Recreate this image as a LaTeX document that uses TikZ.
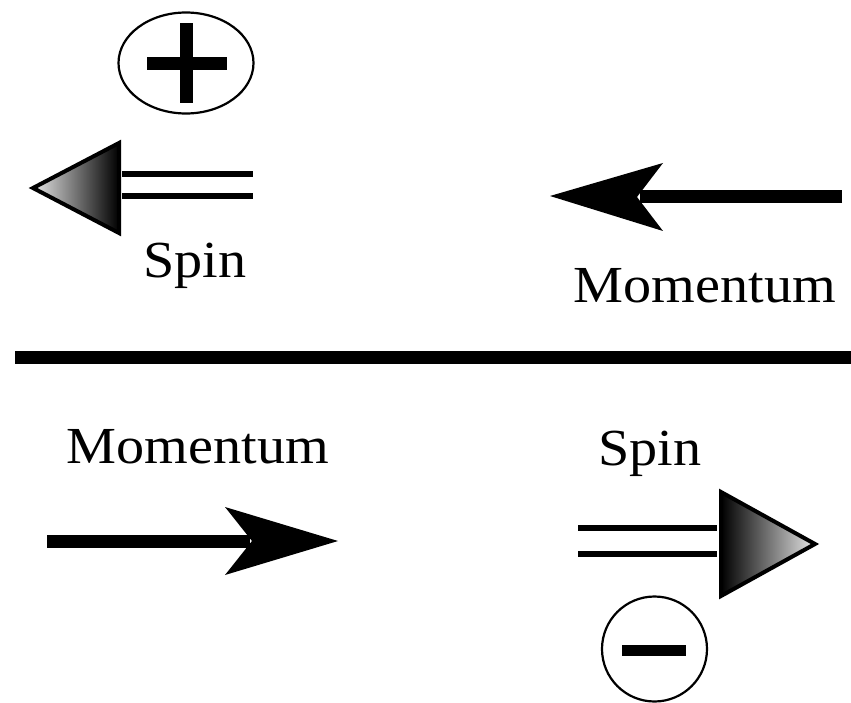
\documentclass[tikz,border=0pt]{standalone}
\usepackage{fontspec}
\setmainfont{Liberation Serif}[FakeStretch=1.08]
\usetikzlibrary{shapes.geometric}
\tikzset{
  lbl/.style={anchor=base, inner sep=0pt, font=\fontsize{52}{60}\selectfont},
  shaft/.style={line width=13pt},
  head/.style={fill=black, draw=none},
  rail/.style={line width=5.5pt},
  tri/.style={draw=black, line width=4pt, line join=miter},
  sign/.style={draw=black, line width=2.2pt},
  bar/.style={fill=black}
}
\begin{document}
\begin{tikzpicture}[x=1pt,y=-1pt]
\useasboundingbox (0,0) rectangle (851,703);
\fill[white] (0,0) rectangle (851,703);

% ---------- top half ----------
% plus sign
\node[sign, ellipse, minimum width=135pt, minimum height=101pt, inner sep=0pt] (plus) at (186,63) {};
\fill[bar] (147,57) rectangle (227,70);
\fill[bar] (180,23) rectangle (193,103);

% spin arrow (left)
\coordinate (sl1) at (122,174);
\coordinate (sr1) at (253,174);
\coordinate (sl2) at (122,196);
\coordinate (sr2) at (253,196);
\draw[rail] (sl1) -- (sr1);
\draw[rail] (sl2) -- (sr2);
\coordinate (tipA) at (33,188);
\coordinate (tA1) at (119,143);
\coordinate (tA2) at (119,233);
\shade[left color=gray!20, right color=black] (tipA) -- (tA1) -- (tA2) -- cycle;
\draw[tri] (tipA) -- (tA1) -- (tA2) -- cycle;
\node[lbl] (spinA) at (195,277) {Spin};

% momentum arrow (left-pointing)
\coordinate (mA0) at (842,197);
\coordinate (mAn) at (640,197);
\draw[shaft] (mA0) -- (mAn);
\fill[head] (550,196) -- (663,163) -- (637,197) -- (663,231) -- cycle;
\node[lbl] (momA) at (705,302) {Momentum};

% ---------- divider ----------
\coordinate (d0) at (15,357.5);
\coordinate (d1) at (851,357.5);
\draw[line width=13pt] (d0) -- (d1);

% ---------- bottom half ----------
\node[lbl] (momB) at (198,463) {Momentum};
\coordinate (mB0) at (47,541);
\coordinate (mBn) at (250,541);
\draw[shaft] (mB0) -- (mBn);
\fill[head] (338,541) -- (225,507) -- (252,541) -- (225,575) -- cycle;

\node[lbl] (spinB) at (650,465) {Spin};
\coordinate (sb1) at (578,528);
\coordinate (se1) at (717,528);
\coordinate (sb2) at (578,554);
\coordinate (se2) at (717,554);
\draw[rail] (sb1) -- (se1);
\draw[rail] (sb2) -- (se2);
\coordinate (tipB) at (815,544);
\coordinate (tB1) at (721,492);
\coordinate (tB2) at (721,596);
\shade[left color=black, right color=gray!20] (tipB) -- (tB1) -- (tB2) -- cycle;
\draw[tri] (tipB) -- (tB1) -- (tB2) -- cycle;

% minus sign
\node[sign, circle, minimum size=105pt, inner sep=0pt] (minus) at (654.5,649) {};
\fill[bar] (622,645) rectangle (686,656);
\end{tikzpicture}
\end{document}
